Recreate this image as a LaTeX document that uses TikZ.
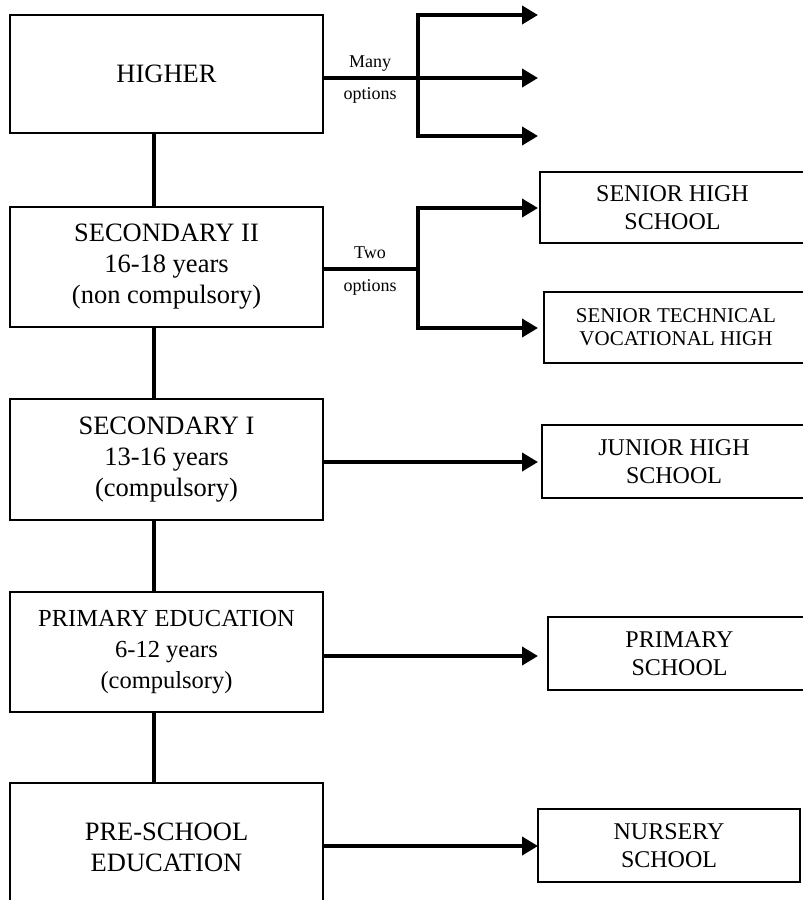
\documentclass[tikz,border=0pt]{standalone}
\usepackage{fontspec}
\setmainfont{Liberation Serif}
\usetikzlibrary{arrows.meta}
\begin{document}
\begin{tikzpicture}[x=1pt,y=-1pt,
  mainbox/.style={draw, line width=1.3pt, minimum width=313pt, align=center, inner sep=0pt, font=\fontsize{26.5}{31}\selectfont},
  sidebox/.style={draw, line width=1.3pt, align=center, inner sep=0pt, font=\fontsize{24}{28}\selectfont},
  spine/.style={line width=3.3pt},
  bus/.style={line width=3.8pt},
  arr/.style={line width=3.8pt, -{Triangle[length=16pt,width=18pt]}},
  lbl/.style={font=\fontsize{18}{20}\selectfont, anchor=base, inner sep=0pt}]
\useasboundingbox (0,0) rectangle (803,900);
\begin{scope}
\clip (0,0) rectangle (803,900);
% main column
\node[mainbox, minimum height=118pt] (higher) at (166.5,74) {HIGHER};
\node[mainbox, minimum height=120pt] (sec2) at (166.5,267) {SECONDARY II\\16-18 years\\(non compulsory)};
\node[mainbox, minimum height=121pt] (sec1) at (166.5,459.5) {SECONDARY I\\13-16 years\\(compulsory)};
\node[mainbox, minimum height=120pt, font=\fontsize{24.5}{31}\selectfont] (prim) at (166.5,652) {PRIMARY EDUCATION\\6-12 years\\(compulsory)};
\node[mainbox, minimum height=128pt] (pre) at (166.5,847) {PRE-SCHOOL\\EDUCATION};
% side boxes
\node[sidebox, minimum width=265pt, minimum height=71pt] (shs) at (672.5,207.5) {SENIOR HIGH\\SCHOOL};
\node[sidebox, minimum width=264pt, minimum height=71pt, font=\fontsize{21}{23}\selectfont] (stv) at (676,327.5) {SENIOR TECHNICAL\\VOCATIONAL HIGH};
\node[sidebox, minimum width=264pt, minimum height=73pt] (jhs) at (674,461.5) {JUNIOR HIGH\\SCHOOL};
\node[sidebox, minimum width=263pt, minimum height=73pt] (ps) at (679.5,653.5) {PRIMARY\\SCHOOL};
\node[sidebox, minimum width=262pt, minimum height=73pt] (ns) at (669,845.5) {NURSERY\\SCHOOL};
% coordinates
\coordinate (sp) at (154,0);
\coordinate (b1t) at (418,15);
\coordinate (b1b) at (418,136);
\coordinate (t1) at (538,15);
\coordinate (t2) at (538,78);
\coordinate (t3) at (538,136);
\coordinate (b2t) at (418,208);
\coordinate (b2m) at (418,269);
\coordinate (b2b) at (418,328);
\coordinate (t4) at (538,208);
\coordinate (t5) at (538,328);
\coordinate (t6) at (538,462);
\coordinate (t7) at (538,656);
\coordinate (t8) at (538,846);
% spine
\draw[spine] (higher.south -| sp) -- (sec2.north -| sp);
\draw[spine] (sec2.south -| sp) -- (sec1.north -| sp);
\draw[spine] (sec1.south -| sp) -- (prim.north -| sp);
\draw[spine] (prim.south -| sp) -- (pre.north -| sp);
% higher branches
\draw[arr] (b1b) -- (b1t) -- (t1);
\draw[arr] (b1t) -- (b1b) -- (t3);
\draw[arr] (higher.east |- t2) -- (t2);
\node[lbl] (many) at (370,67) {Many};
\node[lbl] (manyopt) at (370,99) {options};
% secondary II branches
\draw[bus] (sec2.east |- b2m) -- (b2m);
\draw[arr] (b2b) -- (b2t) -- (t4);
\draw[arr] (b2t) -- (b2b) -- (t5);
\node[lbl] (two) at (370,258) {Two};
\node[lbl] (twoopt) at (370,291) {options};
% single arrows
\draw[arr] (sec1.east |- t6) -- (t6);
\draw[arr] (prim.east |- t7) -- (t7);
\draw[arr] (pre.east |- t8) -- (t8);
\end{scope}
\end{tikzpicture}
\end{document}
